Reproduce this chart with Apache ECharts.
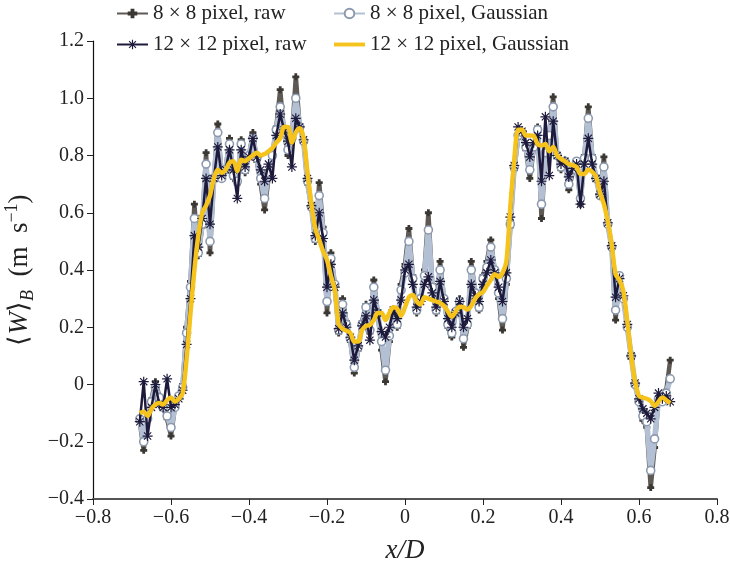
<!DOCTYPE html>
<html><head><meta charset="utf-8">
<script src="https://cdn.jsdelivr.net/npm/echarts@6/dist/echarts.min.js"></script>
<style>html,body{margin:0;padding:0;background:#fff}#c{width:730px;height:568px}</style>
</head><body><div id="c"></div>
<script>
// x/D positions
const xs = [-0.68,-0.67,-0.66,-0.65,-0.64,-0.63,-0.62,-0.61,-0.60,-0.59,-0.58,-0.57,
-0.56,-0.55,-0.54,-0.53,-0.52,-0.51,-0.50,-0.49,-0.48,-0.47,-0.46,-0.45,-0.44,-0.43,-0.42,-0.41,
-0.40,-0.39,-0.38,-0.37,-0.36,-0.35,-0.34,-0.33,-0.32,-0.31,-0.30,-0.29,-0.28,-0.27,-0.26,-0.25,
-0.24,-0.23,-0.22,-0.21,-0.20,-0.19,-0.18,-0.17,-0.16,-0.15,-0.14,-0.13,-0.12,-0.11,-0.10,-0.09,
-0.08,-0.07,-0.06,-0.05,-0.04,-0.03,-0.02,-0.01,0.00,
0.01,0.02,0.03,0.04,0.05,0.06,0.07,0.08,0.09,0.10,0.11,0.12,0.13,0.14,0.15,0.16,0.17,0.18,0.19,0.20,
0.21,0.22,0.23,0.24,0.25,0.26,0.27,0.28,0.29,0.30,0.31,0.32,0.33,0.34,0.35,0.36,0.37,0.38,0.39,0.40,
0.41,0.42,0.43,0.44,0.45,0.46,0.47,0.48,0.49,0.50,0.51,0.52,0.53,0.54,0.55,0.56,0.57,0.58,0.59,0.60,
0.61,0.62,0.63,0.64,0.65,0.66,0.67,0.68];

// 8x8 pixel, raw
const raw8 = [-0.13,-0.23,-0.12,-0.05,0.01,-0.04,-0.08,-0.12,-0.18,-0.08,-0.04,0.0,
0.20,0.36,0.63,0.45,0.55,0.81,0.46,0.72,0.91,0.72,0.75,0.86,0.72,0.70,0.855,0.74,0.80,0.88,0.78,0.70,0.61,0.72,0.80,0.90,1.03,0.88,0.80,0.86,1.075,0.90,0.85,0.70,0.62,0.50,0.705,0.55,0.25,0.46,0.35,0.18,0.30,0.22,0.15,0.04,0.12,0.22,0.28,0.18,0.365,0.25,0.12,0.01,0.15,0.25,0.20,0.35,
0.42,
0.545,0.38,0.25,0.30,0.40,0.60,0.35,0.25,0.43,0.30,0.20,0.166,0.25,0.30,0.13,0.20,0.43,0.32,0.26,0.38,0.43,0.505,0.40,0.30,0.19,0.35,0.55,0.75,0.86,0.88,0.82,0.72,0.82,0.90,0.58,0.80,0.88,1.005,0.80,0.75,0.78,0.68,0.74,0.78,0.63,0.80,0.97,0.80,0.72,0.66,0.795,0.56,0.48,0.225,0.38,0.30,0.20,0.10,0.0,-0.06,-0.125,-0.15,-0.36,-0.22,-0.05,-0.06,-0.02,0.085];

// 8x8 pixel, Gaussian
const gauss8 = [-0.12,-0.20,-0.12,-0.06,-0.01,-0.045,-0.08,-0.11,-0.15,-0.08,-0.04,-0.01,
0.18,0.34,0.58,0.46,0.56,0.77,0.50,0.72,0.88,0.72,0.75,0.84,0.73,0.71,0.84,0.75,0.80,0.86,0.79,0.72,0.65,0.74,0.80,0.89,0.97,0.88,0.82,0.86,1.0,0.90,0.85,0.71,0.62,0.51,0.66,0.53,0.29,0.44,0.35,0.19,0.28,0.21,0.16,0.06,0.13,0.21,0.27,0.19,0.34,0.25,0.15,0.05,0.17,0.25,0.21,0.33,
0.39,
0.50,0.37,0.26,0.30,0.38,0.54,0.34,0.26,0.40,0.30,0.21,0.18,0.255,0.29,0.16,0.21,0.40,0.32,0.27,0.37,0.41,0.48,0.40,0.32,0.23,0.37,0.56,0.76,0.87,0.88,0.83,0.75,0.83,0.89,0.63,0.81,0.87,0.97,0.80,0.76,0.78,0.70,0.75,0.78,0.65,0.79,0.93,0.79,0.72,0.66,0.76,0.56,0.48,0.26,0.38,0.30,0.20,0.10,0.0,-0.06,-0.11,-0.13,-0.30,-0.19,-0.05,-0.06,-0.03,0.02];

// 12x12 pixel, raw
const raw12 = [-0.13,0.01,-0.18,-0.08,0.0,-0.07,-0.08,0.02,-0.08,-0.07,-0.05,-0.02,
0.14,0.30,0.52,0.48,0.58,0.72,0.56,0.72,0.83,0.73,0.75,0.82,0.75,0.65,0.82,0.76,0.795,0.86,0.795,0.75,0.71,0.77,0.72,0.87,0.945,0.89,0.85,0.76,0.93,0.90,0.855,0.72,0.625,0.52,0.60,0.51,0.34,0.42,0.34,0.195,0.25,0.20,0.165,0.085,0.135,0.205,0.24,0.155,0.295,0.25,0.185,0.166,0.20,0.26,0.23,0.295,
0.40,
0.42,0.35,0.27,0.29,0.35,0.376,0.32,0.27,0.36,0.29,0.23,0.20,0.25,0.29,0.20,0.23,0.35,0.31,0.29,0.35,0.39,0.435,0.39,0.34,0.29,0.39,0.585,0.765,0.90,0.885,0.845,0.795,0.845,0.87,0.71,0.935,0.73,0.92,0.80,0.77,0.78,0.725,0.755,0.77,0.63,0.77,0.86,0.77,0.72,0.665,0.71,0.565,0.485,0.305,0.37,0.31,0.21,0.10,0.005,-0.05,-0.085,-0.10,-0.12,-0.08,-0.03,-0.05,-0.04,-0.06];

// 12x12 pixel, Gaussian
const gauss12 = [-0.10,-0.095,-0.11,-0.085,-0.07,-0.065,-0.07,-0.055,-0.045,-0.06,-0.05,-0.03,
0.09,0.25,0.40,0.52,0.60,0.625,0.66,0.72,0.75,0.74,0.75,0.775,0.78,0.745,0.785,0.78,0.79,0.80,0.81,0.80,0.805,0.815,0.826,0.845,0.86,0.90,0.90,0.845,0.88,0.895,0.86,0.74,0.63,0.545,0.505,0.465,0.435,0.38,0.33,0.21,0.195,0.188,0.18,0.15,0.15,0.19,0.205,0.208,0.225,0.25,0.25,0.225,0.25,0.27,0.265,0.24,
0.27,
0.305,0.313,0.29,0.28,0.305,0.30,0.295,0.29,0.285,0.275,0.255,0.237,0.255,0.272,0.27,0.262,0.275,0.30,0.315,0.323,0.345,0.365,0.385,0.376,0.39,0.43,0.62,0.78,0.89,0.89,0.87,0.87,0.868,0.84,0.835,0.84,0.815,0.83,0.80,0.788,0.78,0.77,0.766,0.76,0.735,0.735,0.75,0.743,0.725,0.67,0.63,0.57,0.49,0.385,0.365,0.325,0.22,0.10,0.01,-0.04,-0.046,-0.05,-0.058,-0.075,-0.06,-0.045,-0.055,-0.065];

const seriesNames = ['8 \u00d7 8 pixel, raw','8 \u00d7 8 pixel, Gaussian','12 \u00d7 12 pixel, raw','12 \u00d7 12 pixel, Gaussian'];

function pairs(a){ const n=Math.min(xs.length,a.length); const out=[]; for(let i=0;i<n;i++) out.push([xs[i],a[i]]); return out; }
const font = '"Liberation Serif","Times New Roman",serif';
const fmt = v => (Math.abs(v)<1e-9 ? '0' : v.toFixed(1)).replace('-', '\u2212');
const plusPath = 'path://M3,0H7V3H10V7H7V10H3V7H0V3H3Z';
const astPath = 'path://M0,4.4L10,4.4L10,5.6L0,5.6Z M4.4,0L5.6,0L5.6,10L4.4,10Z M1,1.8L1.8,1L9,8.2L8.2,9Z M8.2,1L9,1.8L1.8,9L1,8.2Z';
const barIcon = 'path://M0,0H40V5H0Z';

const legendText = {fontFamily:font,fontSize:21,color:'#222'};
const chart = echarts.init(document.getElementById('c'), null, {renderer:'canvas'});
chart.setOption({
  animation:false,
  backgroundColor:'#fff',
  grid:{left:93,right:13,top:41,bottom:69,containLabel:false,outerBoundsMode:'none'},
  legend:[
    {left:116, top:3, padding:0, orient:'vertical', itemWidth:31, itemHeight:12, itemGap:10,
     data:[seriesNames[0],seriesNames[2]], textStyle:legendText},
    {left:333, top:3, padding:0, orient:'vertical', itemWidth:31, itemHeight:12, itemGap:10,
     data:[seriesNames[1],{name:seriesNames[3],icon:barIcon}], textStyle:legendText}
  ],
  xAxis:{type:'value',min:-0.8,max:0.8,interval:0.2,
    axisLine:{show:true,onZero:false,lineStyle:{color:'#555',width:2}},
    axisTick:{show:true,inside:false,length:6,lineStyle:{color:'#222',width:1}},
    splitLine:{show:false},
    axisLabel:{formatter:fmt,fontFamily:font,fontSize:20,color:'#222',margin:9},
    name:'x/D',nameLocation:'middle',nameGap:38,
    nameTextStyle:{fontFamily:font,fontStyle:'italic',fontSize:27,color:'#222'}},
  yAxis:{type:'value',min:-0.4,max:1.2,interval:0.2,
    axisLine:{show:true,onZero:false,lineStyle:{color:'#111',width:1.2}},
    axisTick:{show:true,inside:false,length:6,lineStyle:{color:'#222',width:1}},
    splitLine:{show:false},
    axisLabel:{formatter:fmt,fontFamily:font,fontSize:20,color:'#222',margin:9},
    name:'{a|\u27e8}{i|W}{a|\u27e9}{s|B}{a|  (m\u2002s}{p|\u22121}{a|)}',
    nameLocation:'middle',nameGap:54,nameRotate:90,
    nameTextStyle:{fontFamily:font,fontSize:27,color:'#222',
      rich:{
        a:{fontFamily:font,fontSize:27,color:'#222',lineHeight:34},
        i:{fontFamily:font,fontStyle:'italic',fontSize:27,color:'#222',lineHeight:34},
        s:{fontFamily:font,fontStyle:'italic',fontSize:18,color:'#222',lineHeight:18,verticalAlign:'bottom'},
        p:{fontFamily:font,fontSize:18,color:'#222',lineHeight:18,verticalAlign:'top'}
      }}},
  series:[
    {name:seriesNames[0],type:'line',data:pairs(raw8),symbol:plusPath,symbolSize:7,
     itemStyle:{color:'#3b3733'},lineStyle:{color:'#5e5954',width:4.5},silent:true,z:2},
    {name:seriesNames[1],type:'line',data:pairs(gauss8),symbol:'circle',symbolSize:8,
     itemStyle:{color:'#ffffff',borderColor:'#8c9ab0',borderWidth:1.6},lineStyle:{color:'#b3c0d3',width:5.5},silent:true,z:3},
    {name:seriesNames[2],type:'line',data:pairs(raw12),symbol:astPath,symbolSize:10,
     itemStyle:{color:'#1d1a3c'},lineStyle:{color:'#1d1a3c',width:2.5},silent:true,z:4},
    {name:seriesNames[3],type:'line',data:pairs(gauss12),symbol:'none',smooth:0.3,
     itemStyle:{color:'#f5c31c'},lineStyle:{color:'#f5c31c',width:4.5},silent:true,z:5}
  ]
});
</script></body></html>
